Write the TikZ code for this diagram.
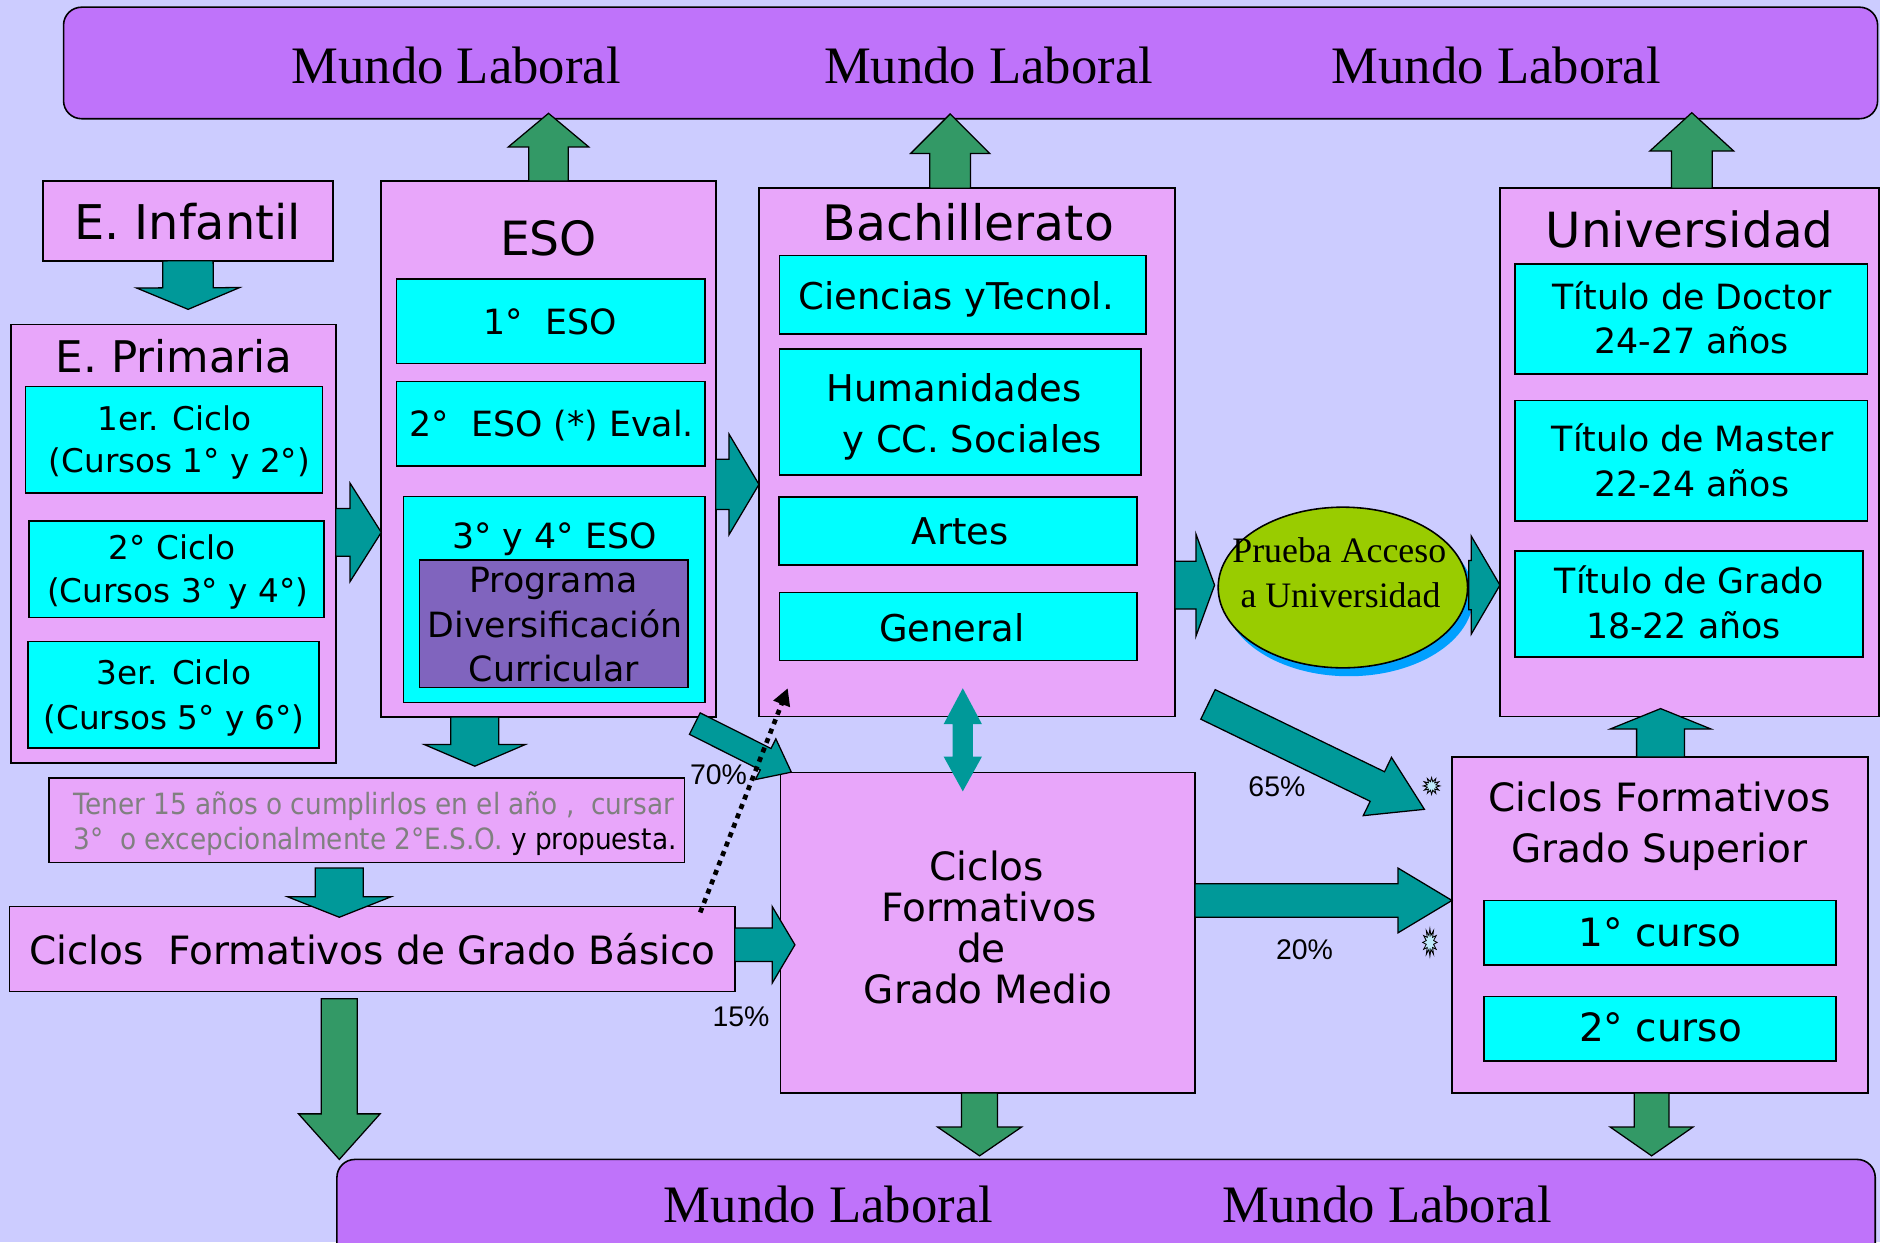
\documentclass[tikz,border=0pt]{standalone}
\usepackage{fontspec}
\setmainfont{DejaVu Sans}
\newfontfamily\tms{Liberation Serif}
\newfontfamily\arl{Liberation Sans}
\newfontfamily\narrowf[FakeStretch=0.9]{DejaVu Sans}
\usetikzlibrary{calc,shapes.geometric,arrows.meta}
\definecolor{bgc}{RGB}{204,204,255}
\definecolor{barc}{RGB}{191,115,250}
\definecolor{pinkc}{RGB}{232,166,250}
\definecolor{cyanc}{RGB}{0,255,255}
\definecolor{progc}{RGB}{128,100,190}
\definecolor{tealc}{RGB}{0,153,153}
\definecolor{greenc}{RGB}{51,153,102}
\definecolor{limec}{RGB}{153,204,0}
\definecolor{shadc}{RGB}{0,160,255}
\definecolor{grayt}{RGB}{128,128,128}
\newcommand\fsz[1]{\fontsize{#1pt}{#1pt}\selectfont}
% name, style, x1, y1, x2, y2
\newcommand\rbox[6]{\node[#2, minimum width={(#5-#3)*0.02cm}, minimum height={(#6-#4)*0.02cm}] (#1) at ({(#3+#5)/2},{(#4+#6)/2}) {};}
% name, x, y, font, text
\newcommand\txt[5]{\node[lbl,font={#4}] (#1) at (#2,#3) {#5};}
% style, start, end, shaft half width, head half width, head length
\newcommand\barr[6]{%
  \coordinate (bs) at #2;
  \coordinate (be) at #3;
  \coordinate (bh) at ($(be)!#6*0.02cm!(bs)$);
  \draw[#1] ($(bs)!#4*0.02cm!90:(be)$) -- ($(bh)!#4*0.02cm!90:(be)$) -- ($(bh)!#5*0.02cm!90:(be)$) -- (be) -- ($(bh)!#5*0.02cm!-90:(be)$) -- ($(bh)!#4*0.02cm!-90:(be)$) -- ($(bs)!#4*0.02cm!-90:(be)$) -- cycle;
}
\begin{document}
\begin{tikzpicture}[x=0.02cm,y=-0.02cm,
  box/.style={draw=black,line width=0.75pt,inner sep=0pt,outer sep=0pt},
  pinkbox/.style={box,fill=pinkc},
  cyanbox/.style={box,fill=cyanc},
  progbox/.style={box,fill=progc},
  barbox/.style={box,fill=barc,rounded corners=0.3cm},
  lbl/.style={anchor=base,inner sep=0pt,outer sep=0pt},
  tarrow/.style={fill=tealc,draw=black,line width=0.6pt},
  garrow/.style={fill=greenc,draw=black,line width=0.6pt},
  dotarr/.style={line width=2.2pt,dash pattern=on 2.4pt off 2.4pt,-{Triangle[length=8pt,width=8pt]}},
  burst/.style={star,star points=12,star point ratio=1.9,draw=black,fill=cyan!25,line width=0.4pt,inner sep=0pt}
]
\useasboundingbox (0,0) rectangle (1568,1036);
\fill[bgc] (0,0) rectangle (1568,1036);

% bars
\rbox{top}{barbox}{53}{6}{1566}{99}
\rbox{bot}{barbox}{281}{967}{1564}{1060}

% left column
\rbox{infantil}{pinkbox}{36}{151}{277.5}{217.5}
\rbox{primaria}{pinkbox}{9}{270.5}{280}{636.5}
\rbox{p1}{cyanbox}{21.3}{322.5}{269}{411}
\rbox{p2}{cyanbox}{24.3}{434.5}{270}{515}
\rbox{p3}{cyanbox}{23.4}{535}{266}{624}
% ESO
\rbox{eso}{pinkbox}{318}{151}{597}{598}
\rbox{e1}{cyanbox}{330.6}{232.7}{588}{303}
\rbox{e2}{cyanbox}{330.7}{318.3}{588}{388.7}
\rbox{e3}{cyanbox}{336.4}{414}{588}{586}
\rbox{prog}{progbox}{350}{467}{574}{573.5}
% Bachillerato
\rbox{bach}{pinkbox}{633}{157}{980}{597.5}
\rbox{b1}{cyanbox}{650.2}{213}{955.6}{278.5}
\rbox{b2}{cyanbox}{650}{291}{951.5}{396}
\rbox{b3}{cyanbox}{649.6}{414.5}{948.3}{471}
\rbox{b4}{cyanbox}{650}{494}{948.3}{551}
% Universidad
\rbox{univ}{pinkbox}{1251}{157}{1567}{597.5}
\rbox{u1}{cyanbox}{1263.6}{220}{1557.6}{312}
\rbox{u2}{cyanbox}{1263.6}{334}{1557.6}{434.6}
\rbox{u3}{cyanbox}{1263.6}{459.6}{1553.8}{548}
% lower
\rbox{tener}{pinkbox}{40.7}{649}{571}{719.5}
\rbox{basico}{pinkbox}{8}{756}{612.8}{827}
\rbox{gm}{pinkbox}{651}{644.4}{996.7}{911.6}
\rbox{gs}{pinkbox}{1211}{631.4}{1557.8}{911.6}
\rbox{g1}{cyanbox}{1237.7}{751}{1531.4}{805}
\rbox{g2}{cyanbox}{1237.7}{831}{1531.4}{885}

% Prueba ellipse
\node[ellipse,fill=shadc,minimum width={208*0.02cm},minimum height={134*0.02cm},inner sep=0pt] (pshadow) at (1125,497) {};
\node[ellipse,draw=black,line width=0.75pt,fill=limec,minimum width={208*0.02cm},minimum height={134*0.02cm},inner sep=0pt] (prueba) at (1120,490) {};

% texts
\txt{ml1}{380.5}{69.5}{\tms\fsz{25}}{Mundo Laboral}
\txt{ml2}{824.5}{69.5}{\tms\fsz{25}}{Mundo Laboral}
\txt{ml3}{1248}{69.5}{\tms\fsz{25}}{Mundo Laboral}
\txt{ml4}{691}{1020}{\tms\fsz{25}}{Mundo Laboral}
\txt{ml5}{1157}{1020}{\tms\fsz{25}}{Mundo Laboral}

\txt{tinf}{156.4}{199.6}{\fsz{22.7}}{E. Infantil}
\txt{tpri}{145.3}{310.8}{\fsz{20.7}}{E. Primaria}
\txt{tp1a}{145.5}{359.2}{\fsz{15.5}}{1er. Ciclo}
\txt{tp1b}{149.6}{394.2}{\fsz{15.5}}{(Cursos 1° y 2°)}
\txt{tp2a}{143.5}{466.5}{\fsz{15.5}}{2° Ciclo}
\txt{tp2b}{148.2}{502.6}{\fsz{15.5}}{(Cursos 3° y 4°)}
\txt{tp3a}{145}{571.3}{\fsz{15.5}}{3er. Ciclo}
\txt{tp3b}{145.2}{608.8}{\fsz{15.5}}{(Cursos 5° y 6°)}

\txt{teso}{457.5}{212.7}{\fsz{22.4}}{ESO}
\txt{te1}{458.7}{278.8}{\fsz{16.5}}{1°\ \ ESO}
\txt{te2}{460.3}{364}{\fsz{16.5}}{2°\ \ ESO (*) Eval.}
\txt{te3}{462.5}{457.3}{\fsz{16.5}}{3° y 4° ESO}
\txt{tpg1}{461.5}{494.3}{\fsz{16.5}}{Programa}
\txt{tpg2}{463}{531.6}{\fsz{16.5}}{Diversificación}
\txt{tpg3}{462}{568.5}{\fsz{16.5}}{Curricular}

\txt{tbach}{807.6}{200.7}{\fsz{23.2}}{Bachillerato}
\txt{tb1}{797.6}{258.4}{\fsz{17.5}}{Ciencias yTecnol.}
\txt{tb2a}{795.7}{335}{\fsz{17.5}}{Humanidades}
\txt{tb2b}{811}{377.5}{\fsz{17.5}}{y CC. Sociales}
\txt{tb3}{800.9}{454.5}{\fsz{17.5}}{Artes}
\txt{tb4}{794}{534.9}{\fsz{17.5}}{General}

\txt{tuniv}{1409.2}{206.8}{\fsz{23}}{Universidad}
\txt{tu1a}{1411.5}{258.4}{\fsz{16.5}}{Título de Doctor}
\txt{tu1b}{1410.9}{294.8}{\fsz{16.5}}{24-27 años}
\txt{tu2a}{1411.8}{376.6}{\fsz{16.5}}{Título de Master}
\txt{tu2b}{1411}{413.7}{\fsz{16.5}}{22-24 años}
\txt{tu3a}{1409}{494.8}{\fsz{16.5}}{Título de Grado}
\txt{tu3b}{1404}{532.4}{\fsz{16.5}}{18-22 años}

\txt{tpr1}{1117}{469}{\tms\fsz{17}}{Prueba Acceso}
\txt{tpr2}{1118}{506.8}{\tms\fsz{17}}{a Universidad}

\txt{tgs1}{1384}{676.7}{\fsz{18.5}}{Ciclos Formativos}
\txt{tgs2}{1384}{719.4}{\fsz{18.5}}{Grado Superior}
\txt{tg1}{1384.6}{789}{\fsz{18.5}}{1° curso}
\txt{tg2}{1385}{869}{\fsz{18.5}}{2° curso}

\txt{tgm1}{823}{734.3}{\fsz{18.5}}{Ciclos}
\txt{tgm2}{825}{768.3}{\fsz{18.5}}{Formativos}
\txt{tgm3}{818.5}{803}{\fsz{18.5}}{de}
\txt{tgm4}{824}{837}{\fsz{18.5}}{Grado Medio}

\txt{tbas}{310.7}{804}{\fsz{18.5}}{Ciclos\ \ Formativos de Grado Básico}
\node[lbl,font={\narrowf\fsz{13.9}},text=grayt] (tten1) at (311.7,678.9) {Tener 15 años o cumplirlos en el año ,\ \ cursar};
\node[lbl,font={\narrowf\fsz{13.9}},text=grayt] (tten2) at (312.8,708.4) {3°\ \ o excepcionalmente 2°E.S.O. \textcolor{black}{y propuesta.}};

\txt{p70}{599.3}{654}{\arl\fsz{13.5}}{70\%}
\txt{p15}{618}{856}{\arl\fsz{13.5}}{15\%}
\txt{p65}{1065}{664.5}{\arl\fsz{13.5}}{65\%}
\txt{p20}{1088}{800}{\arl\fsz{13.5}}{20\%}

% bursts
\node[burst,minimum size=0.28cm] (st1) at (1194,655.5) {};
\node[burst,minimum size=0.24cm,yscale=1.9,transform shape] (st2) at (1192.6,786) {};

% block arrows
\barr{tarrow}{(infantil.south)}{(156.9,258)}{21}{43}{18}
\barr{tarrow}{(primaria.east |- 0,444)}{(eso.west |- 0,444)}{20}{41}{26}
\barr{tarrow}{(eso.east |- 0,404)}{(bach.west |- 0,404)}{21}{42}{25}
\barr{tarrow}{(eso.south -| 396,0)}{(396,639)}{20}{42}{18}
\barr{tarrow}{(283,724)}{(283,765)}{20}{43}{17}
\barr{garrow}{(283,833)}{(bot.north -| 283,0)}{15}{34}{38}
\barr{tarrow}{(basico.east |- 0,788)}{(663,788)}{14}{32}{19}
\barr{tarrow}{(579.5,603.5)}{(660,644)}{10}{19}{24}
\barr{garrow}{(bach.north -| 792.5,0)}{(792.5,95)}{17}{33}{33}
\barr{garrow}{(eso.north)}{(457.5,94.5)}{16.5}{33.5}{28}
\barr{garrow}{(univ.north -| 1411,0)}{(1411,94)}{17}{35}{32}
\barr{tarrow}{(bach.east |- 0,488)}{(1013,488)}{20}{42.5}{15.5}
\barr{tarrow}{(1225,488)}{(univ.west |- 0,488)}{20.5}{41}{24}
\barr{tarrow}{(1007.5,587.5)}{(1188,675)}{13.7}{27}{43.6}
\barr{tarrow}{(gm.east |- 0,751)}{(gs.west |- 0,751)}{14}{27}{45}
\barr{tarrow}{(gs.north -| 1385,0)}{(1385,591)}{20}{42}{17}
\barr{garrow}{(gm.south -| 817,0)}{(817,964)}{15}{35}{24}
\barr{garrow}{(gs.south -| 1377.5,0)}{(1377.5,964)}{14.5}{34.5}{24}

% double arrow Bachillerato <-> Grado Medio
\coordinate (bd1) at (803,574);
\coordinate (bd2) at (803,660);
\fill[tealc] (bd1) -- ($(bd1)+(16,30)$) -- ($(bd1)+(8.5,30)$) -- ($(bd2)+(8.5,-29)$) -- ($(bd2)+(16,-29)$) -- (bd2) -- ($(bd2)+(-16,-29)$) -- ($(bd2)+(-8.5,-29)$) -- ($(bd1)+(-8.5,30)$) -- ($(bd1)+(-16,30)$) -- cycle;

% dotted arrow
\coordinate (dS) at (584,761);
\coordinate (dE) at (657,574);
\draw[dotarr] (dS) -- (dE);
\end{tikzpicture}
\end{document}
